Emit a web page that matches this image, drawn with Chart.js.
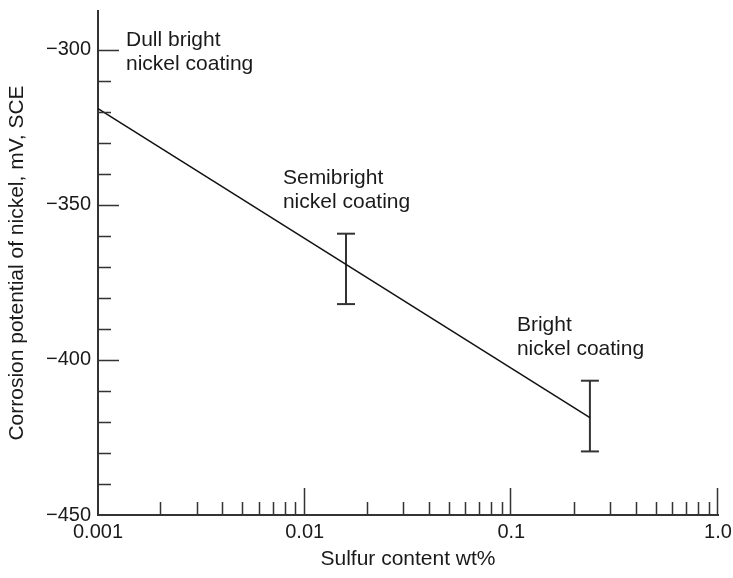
<!DOCTYPE html>
<html>
<head>
<meta charset="utf-8">
<script src="https://cdn.jsdelivr.net/npm/chart.js@4"></script>
<style>
  body { margin: 0; background: #fff; }
  #wrap { width: 733px; height: 578px; position: relative; }
</style>
</head>
<body>
<div id="wrap"><canvas id="chartSulfur"></canvas></div>
<script>
// trend line: corrosion potential vs sulfur content
const lineSulfur = [0.001, 0.24];
const linePotential = [-319, -418.6];

// error bars (semibright, bright)
const barSulfur = [0.01585, 0.24];
const barLow = [-382, -429.5];
const barHigh = [-359.3, -406.7];

// axis ticks
const xTicks = [0.001, 0.01, 0.1, 1];
const xTickLabels = ['0.001', '0.01', '0.1', '1.0'];
const yTicks = [-450, -400, -350, -300];
const xDecades = [0.001, 0.01, 0.1];
const yMinorStep = 10;

// text labels in the plot
const notes = [
  { lines: ['Dull bright', 'nickel coating'], x: 0.001366, y: -298.7 },
  { lines: ['Semibright', 'nickel coating'], x: 0.00785, y: -343.3 },
  { lines: ['Bright', 'nickel coating'], x: 0.1064, y: -390.7 },
];

const FONT = "'Liberation Sans', Arial, Helvetica, sans-serif";
const INK = '#1a1a1a';
const AXIS = '#333';

const innerTicks = {
  id: 'innerTicks',
  afterDatasetsDraw(chart) {
    const { ctx, chartArea, scales } = chart;
    const x = scales.x;
    const y = scales.y;
    ctx.save();
    ctx.strokeStyle = AXIS;
    ctx.lineWidth = 1.5;
    ctx.beginPath();
    // x minor ticks
    xDecades.forEach((d) => {
      for (let m = 2; m <= 9; m++) {
        const px = Math.round(x.getPixelForValue(d * m)) + 0.5;
        ctx.moveTo(px, chartArea.bottom);
        ctx.lineTo(px, chartArea.bottom - 13);
      }
    });
    // x major ticks
    xTicks.slice(1).forEach((v) => {
      const px = Math.round(x.getPixelForValue(v)) - 0.5;
      ctx.moveTo(px, chartArea.bottom);
      ctx.lineTo(px, chartArea.bottom - 27);
    });
    // y ticks
    for (let v = -440; v <= -300; v += yMinorStep) {
      const py = Math.round(y.getPixelForValue(v)) + 0.5;
      const len = v % 50 === 0 ? 21 : 13;
      ctx.moveTo(chartArea.left, py);
      ctx.lineTo(chartArea.left + len, py);
    }
    ctx.stroke();

    // annotations
    ctx.fillStyle = INK;
    ctx.font = `21px ${FONT}`;
    ctx.textAlign = 'left';
    ctx.textBaseline = 'alphabetic';
    notes.forEach((n) => {
      const px = x.getPixelForValue(n.x);
      const py = y.getPixelForValue(n.y);
      n.lines.forEach((t, i) => ctx.fillText(t, px, py + i * 24));
    });
    ctx.restore();
  },
};

const ctx = document.getElementById('chartSulfur').getContext('2d');

const errorBar = (i) => ({
  data: [
    { x: barSulfur[i], y: barLow[i] },
    { x: barSulfur[i], y: barHigh[i] },
  ],
  borderColor: AXIS,
  borderWidth: 2,
  pointStyle: 'line',
  pointRadius: 9,
  pointBorderWidth: 2,
  pointBorderColor: AXIS,
  pointHoverRadius: 9,
});

new Chart(ctx, {
  type: 'line',
  data: {
    datasets: [
      {
        data: lineSulfur.map((s, i) => ({ x: s, y: linePotential[i] })),
        borderColor: '#111',
        borderWidth: 1.5,
        pointRadius: 0,
      },
      errorBar(0),
      errorBar(1),
    ],
  },
  options: {
    responsive: true,
    maintainAspectRatio: false,
    animation: false,
    layout: { padding: { top: 8, right: 15, left: 0, bottom: 0 } },
    scales: {
      x: {
        type: 'logarithmic',
        min: 0.001,
        max: 1,
        grid: { display: false, drawTicks: false },
        border: { display: true, color: AXIS, width: 2 },
        afterBuildTicks(scale) {
          scale.ticks = xTicks.map((v) => ({ value: v }));
        },
        afterFit(scale) {
          scale.height = 63;
          scale.paddingLeft = 0;
          scale.paddingRight = 0;
        },
        ticks: {
          autoSkip: false,
          maxRotation: 0,
          padding: 5,
          color: INK,
          font: { family: FONT, size: 20 },
          callback: (value) => xTickLabels[xTicks.indexOf(value)] ?? '',
        },
        title: {
          display: true,
          text: 'Sulfur content wt%',
          color: INK,
          font: { family: FONT, size: 21 },
          padding: { top: 0, bottom: 6 },
        },
      },
      y: {
        type: 'linear',
        min: -450,
        max: -287.5,
        grid: { display: false, drawTicks: false },
        border: { display: true, color: AXIS, width: 2 },
        afterBuildTicks(scale) {
          scale.ticks = yTicks.map((v) => ({ value: v }));
        },
        afterFit(scale) {
          scale.width = 98;
          scale.paddingTop = 0;
          scale.paddingBottom = 0;
        },
        ticks: {
          padding: 7,
          color: INK,
          font: { family: FONT, size: 20 },
          callback: (value) => `\u2212${Math.abs(value)}`,
        },
        title: {
          display: true,
          text: 'Corrosion potential of nickel, mV, SCE',
          color: INK,
          font: { family: FONT, size: 21 },
          padding: { top: 5, bottom: 0 },
        },
      },
    },
    plugins: {
      legend: { display: false },
      tooltip: { enabled: false },
    },
  },
  plugins: [innerTicks],
});
</script>
</body>
</html>
